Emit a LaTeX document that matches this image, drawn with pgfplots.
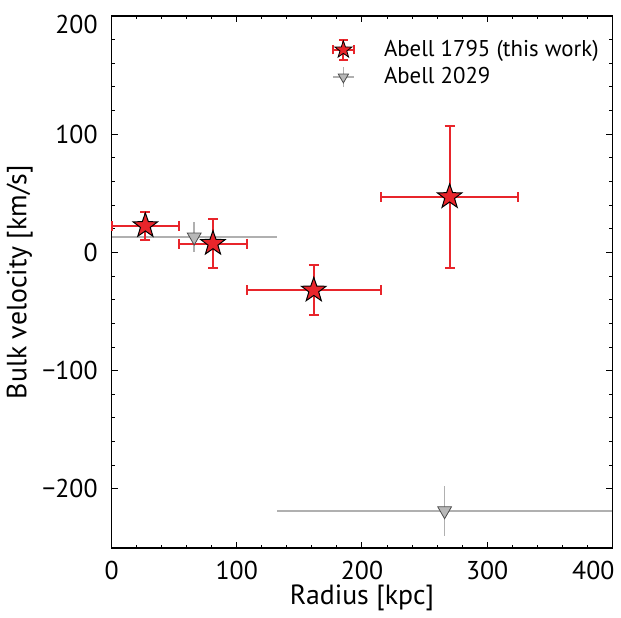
\documentclass[border=0pt]{standalone}
\usepackage{pgfplots}
\pgfplotsset{compat=1.18}
\usepackage{fontspec}
\setmainfont{PT Sans}
\definecolor{starred}{HTML}{E8252B}
\definecolor{errgray}{HTML}{B0B0B0}
\definecolor{trigray}{HTML}{B8B8B8}
\pgfdeclareplotmark{fstar}{%
  \pgfpathmoveto{\pgfpointpolar{90}{\pgfplotmarksize}}%
  \pgfpathlineto{\pgfpointpolar{126}{0.40\pgfplotmarksize}}%
  \pgfpathlineto{\pgfpointpolar{162}{\pgfplotmarksize}}%
  \pgfpathlineto{\pgfpointpolar{198}{0.40\pgfplotmarksize}}%
  \pgfpathlineto{\pgfpointpolar{234}{\pgfplotmarksize}}%
  \pgfpathlineto{\pgfpointpolar{270}{0.40\pgfplotmarksize}}%
  \pgfpathlineto{\pgfpointpolar{306}{\pgfplotmarksize}}%
  \pgfpathlineto{\pgfpointpolar{342}{0.40\pgfplotmarksize}}%
  \pgfpathlineto{\pgfpointpolar{18}{\pgfplotmarksize}}%
  \pgfpathlineto{\pgfpointpolar{54}{0.40\pgfplotmarksize}}%
  \pgfpathclose
  \pgfusepathqfillstroke}
\begin{document}
\begin{tikzpicture}
\begin{axis}[
  scale only axis,
  width=252.5pt, height=268.25pt,
  xmin=0, xmax=400, ymin=-250, ymax=200,
  xtick={0,100,200,300,400},
  xticklabels={0,100,200,300,\hspace{2pt}\makebox[0pt][r]{400}},
  ytick={-200,-100,0,100,200},
  yticklabels={−200,−100,0,100,\raisebox{-4.5pt}[\height][\depth]{200}},
  minor x tick num=4, minor y tick num=4,
  tick align=inside,
  major tick length=3pt, minor tick length=1.5pt,
  tick style={black, line width=0.5pt},
  axis line style={line width=0.8pt},
  font=\fontsize{14}{16}\selectfont,
  tick label style={font=\fontsize{13}{15}\selectfont},
  xticklabel style={yshift=-3pt},
  yticklabel style={xshift=-3.5pt},
  xlabel={Radius [kpc]}, ylabel={Bulk velocity [km/s]},
  xlabel style={yshift=4.5pt},
  ylabel style={yshift=-2pt},
  clip=false,
]
\addplot[only marks, mark=triangle*, mark size=4pt,
  mark options={rotate=180, fill=trigray, draw=black!70, line width=0.4pt},
  error bars/.cd, x dir=both, x explicit, y dir=both, y explicit,
  error mark=none, error bar style={errgray, line width=0.8pt}]
  coordinates {
  (66,13) +- (66,13)
  (266,-218.5) +- (134,21)
  };
\addplot[only marks, mark=fstar, mark size=6.5pt,
  mark options={fill=starred, draw=black, line width=0.5pt},
  error bars/.cd, x dir=both, x explicit, y dir=both, y explicit,
  error mark=-,
  error mark options={starred, rotate=90, mark size=2.5pt, line width=1pt},
  error bar style={starred, line width=1pt}]
  coordinates {
  (27,22.5) +- (27,12)
  (81,7.5) +- (27,21)
  (161.5,-32) +- (53.5,21)
  (270,47) +- (54.5,60)
  };
\end{axis}
\begin{axis}[
  scale only axis,
  width=252.5pt, height=268.25pt,
  xmin=0, xmax=400, ymin=-250, ymax=200,
  hide axis,
  legend style={draw=none, fill=none, at={(0.422,0.97)}, anchor=north west,
    font=\fontsize{11.5}{13}\selectfont, row sep=0pt},
  legend cell align=left,
]
\addlegendimage{legend image code/.code={%
  \path[draw=none, fill=none] (0cm,0cm) -- (0.9cm,0cm);
  \draw[starred, line width=1pt] (0.25cm,-0.18cm)--(0.25cm,0.18cm) (0.07cm,0cm)--(0.43cm,0cm);
  \draw[starred, line width=1pt] (0.17cm,0.18cm)--(0.33cm,0.18cm) (0.17cm,-0.18cm)--(0.33cm,-0.18cm)
     (0.07cm,-0.08cm)--(0.07cm,0.08cm) (0.43cm,-0.08cm)--(0.43cm,0.08cm);
  \draw[fill=starred, draw=black, line width=0.4pt] plot[mark=fstar, mark size=4.5pt, only marks] coordinates {(0.25cm,0cm)};}}
\addlegendentry{Abell 1795 (this work)}
\addlegendimage{legend image code/.code={%
  \path[draw=none, fill=none] (0cm,0cm) -- (0.9cm,0cm);
  \draw[errgray, line width=0.6pt] (0.25cm,-0.18cm)--(0.25cm,0.18cm) (0.07cm,0cm)--(0.43cm,0cm);
  \draw[fill=trigray, draw=black!70, line width=0.4pt] plot[mark=triangle*, mark size=3pt, mark options={rotate=180}, only marks] coordinates {(0.25cm,0cm)};}}
\addlegendentry{Abell 2029}
\end{axis}
\end{tikzpicture}
\end{document}
